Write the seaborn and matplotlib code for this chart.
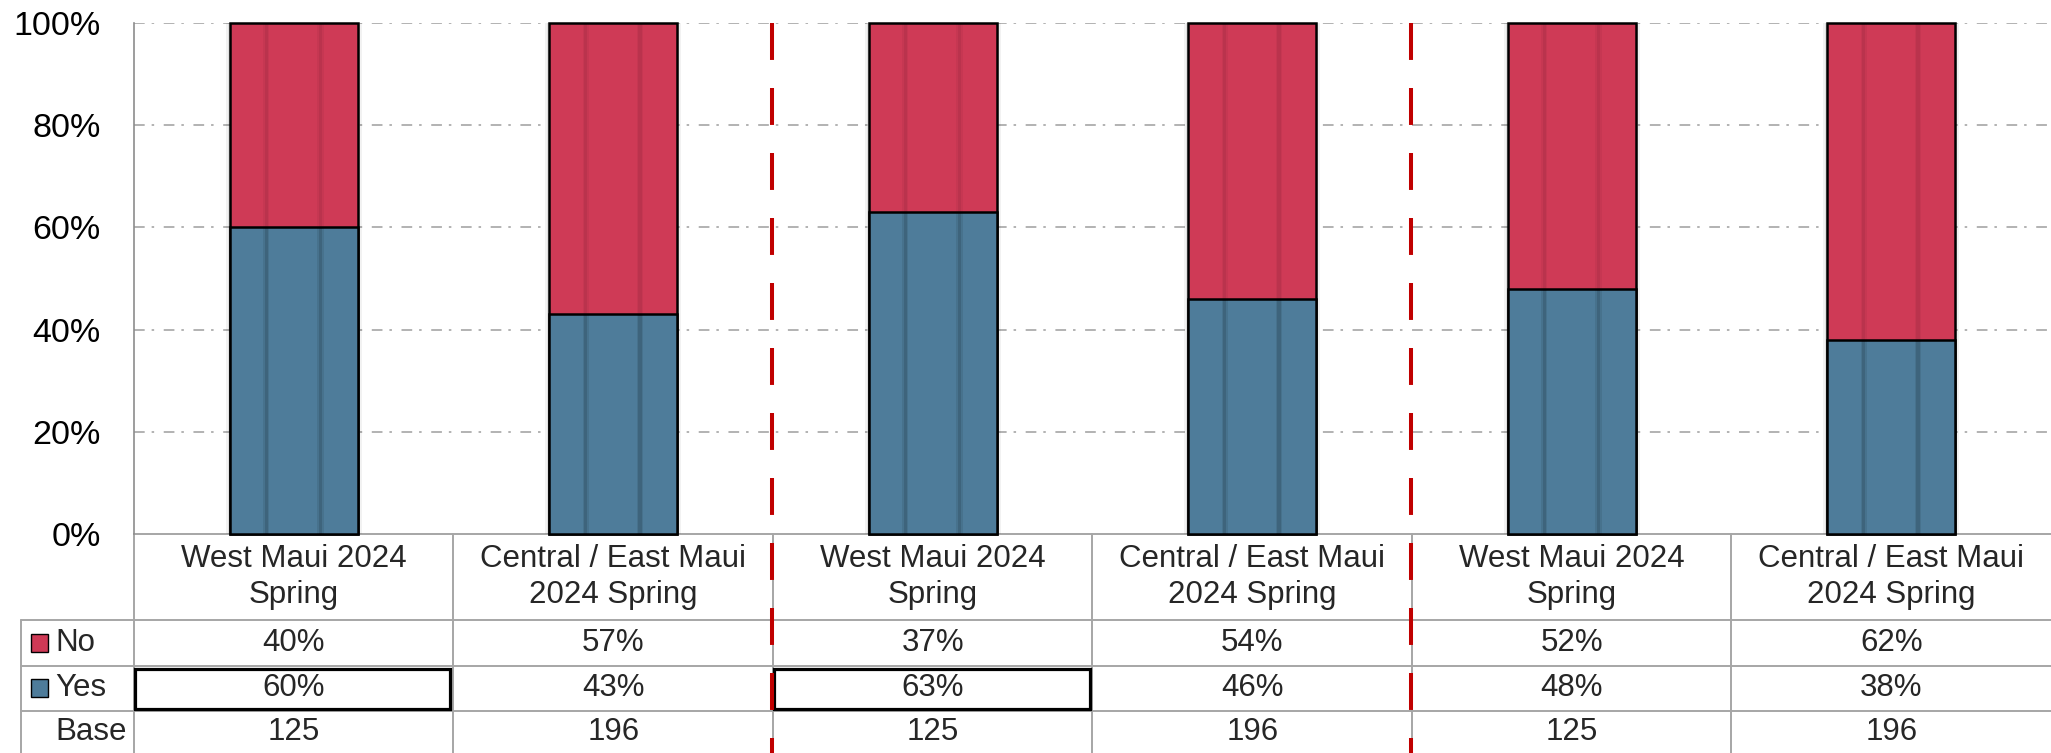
import numpy as np
import pandas as pd
import matplotlib
matplotlib.use("Agg")
import matplotlib.pyplot as plt
from matplotlib.patches import Rectangle
import seaborn as sns

# ---------------- data ----------------
categories = ["West Maui 2024\nSpring", "Central / East Maui\n2024 Spring",
              "West Maui 2024\nSpring", "Central / East Maui\n2024 Spring",
              "West Maui 2024\nSpring", "Central / East Maui\n2024 Spring"]
no_pct = [40, 57, 37, 54, 52, 62]
yes_pct = [60, 43, 63, 46, 48, 38]
base_n = [125, 196, 125, 196, 125, 196]
yes_highlight = [True, False, True, False, False, False]
group_breaks = [1.5, 3.5]
y_ticks = [0, 20, 40, 60, 80, 100]
row_labels = ["No", "Yes", "Base"]

RED = "#CF3A56"
BLUE = "#4E7C9A"
GRID = "#a6a6a6"
BREAK_RED = "#C00000"

df = pd.DataFrame({"pos": list(range(len(categories))), "Yes": yes_pct, "No": no_pct})
df["Top"] = df["Yes"] + df["No"]

sns.set_style("white")
plt.rcParams["font.family"] = ["Liberation Sans", "DejaVu Sans"]
plt.rcParams["lines.scale_dashes"] = False

# ---------------- layout (pixels) ----------------
W, H = 2051, 753
L, T, B = 134, 23, 534          # plot area left/top/bottom
TL = 21                         # table left edge
U = (W - L) / len(categories)   # px per category unit
rows = [0, 86, 131.5, 177, 222.5]  # table row edges (px below plot bottom)

fig = plt.figure(figsize=(W / 100, H / 100), dpi=100)
ax = fig.add_axes([L / W, (H - B) / H, (W - L) / W, (B - T) / H])

# bars (stacked: full height red, yes blue on top)
sns.barplot(data=df, x="pos", y="Top", color=RED, width=0.4, saturation=1,
            edgecolor="black", linewidth=1.8, errorbar=None, ax=ax, zorder=3)
sns.barplot(data=df, x="pos", y="Yes", color=BLUE, width=0.4, saturation=1,
            edgecolor="black", linewidth=1.8, errorbar=None, ax=ax, zorder=3)

px = 1.0 / U
for i, p in enumerate(list(ax.patches)):
    p.set_clip_on(False)
    x, y, w, h = p.get_x(), p.get_y(), p.get_width(), p.get_height()
    # soft shadow behind full bars
    if i < len(categories):
        for grow, a in [(4, 0.05), (2, 0.07)]:
            ax.add_patch(Rectangle((x - grow * px, y), w + 2 * grow * px, h,
                                   facecolor="black", alpha=a, lw=0, zorder=2,
                                   clip_on=False))
    # darker vertical stripes inside bars
    for c in (0.285, 0.71):
        ax.add_patch(Rectangle((x + (c - 0.025) * w, y), 0.05 * w, h,
                               facecolor="black", alpha=0.04, lw=0, zorder=3.5))
        ax.add_patch(Rectangle((x + (c - 0.013) * w, y), 0.026 * w, h,
                               facecolor="black", alpha=0.06, lw=0, zorder=3.5))

ax.set_xlim(-0.5, len(categories) - 0.5)
ax.set_ylim(0, 100)
ax.set_xticks([])
ax.set_xlabel("")
ax.set_ylabel("")
ax.set_yticks(y_ticks)
ax.set_yticklabels([f"{v}%" for v in y_ticks])
ax.tick_params(axis="y", length=0, pad=24, labelsize=24.5, labelcolor="black")

for v in y_ticks[1:]:
    ax.axhline(v, color=GRID, lw=1.2, linestyle=(0, (7.7, 5, 1.8, 6.9)), zorder=1)

for s in ["top", "right", "bottom"]:
    ax.spines[s].set_visible(False)
ax.spines["left"].set_color("#8c8c8c")
ax.spines["left"].set_linewidth(1.2)

# red dashed group separators (from top of plot to figure bottom)
ext = -(H - B) / (B - T)
for gx in group_breaks:
    ax.plot([gx - 1.5 * px, gx - 1.5 * px], [1, ext], transform=ax.get_xaxis_transform(),
            color=BREAK_RED, lw=2.9, linestyle=(0, (26.6, 20.2)),
            clip_on=False, zorder=6, solid_capstyle="butt", dash_capstyle="butt")

# ---------------- data table ----------------
tax = fig.add_axes([TL / W, 0, (W - TL) / W, (H - B) / H])
xleft = -0.5 - (L - TL) / U
xright = len(categories) - 0.5
tax.set_xlim(xleft, xright)
tax.set_ylim(H - B, 0)
tax.axis("off")
ax.set_zorder(2)
ax.patch.set_alpha(0)
tax.set_zorder(1)

lk = dict(color=GRID, lw=1.4, clip_on=False, zorder=1)
tax.plot([-0.5, xright], [rows[0], rows[0]], **lk)
for r in rows[1:4]:
    tax.plot([xleft, xright], [r, r], **lk)
tax.plot([xleft, xleft], [rows[1], H - B], **lk)
for k in range(len(categories)):
    tax.plot([k - 0.5, k - 0.5], [rows[0], H - B], **lk)

fs = 22.5
for i, cat in enumerate(categories):
    tax.text(i, (rows[0] + rows[1]) / 2, cat, ha="center", va="center",
             fontsize=fs, linespacing=1.25)
    tax.text(i, (rows[1] + rows[2]) / 2, f"{no_pct[i]}%", ha="center", va="center", fontsize=fs)
    tax.text(i, (rows[2] + rows[3]) / 2, f"{yes_pct[i]}%", ha="center", va="center", fontsize=fs)
    tax.text(i, (rows[3] + H - B) / 2, f"{base_n[i]}", ha="center", va="center", fontsize=fs)
    if yes_highlight[i]:
        tax.add_patch(Rectangle((i - 0.5 + 1 * px, rows[2] + 3.5),
                                1 - 4 * px, (rows[3] - rows[2]) - 5.5,
                                fill=False, edgecolor="black", lw=2.3, zorder=4))

swatch_colors = [RED, BLUE, None]
for j, lab in enumerate(row_labels):
    yc = (rows[j + 1] + rows[j + 2]) / 2 if j < 2 else (rows[3] + H - B) / 2
    if swatch_colors[j]:
        tax.add_patch(Rectangle((xleft + 10 * px, yc - 9), 17 * px, 18,
                                facecolor=swatch_colors[j], edgecolor="black",
                                lw=1.0, zorder=3))
    tax.text(xleft + 34 * px, yc, lab, ha="left", va="center", fontsize=fs)

fig.savefig("out.png", dpi=100)
